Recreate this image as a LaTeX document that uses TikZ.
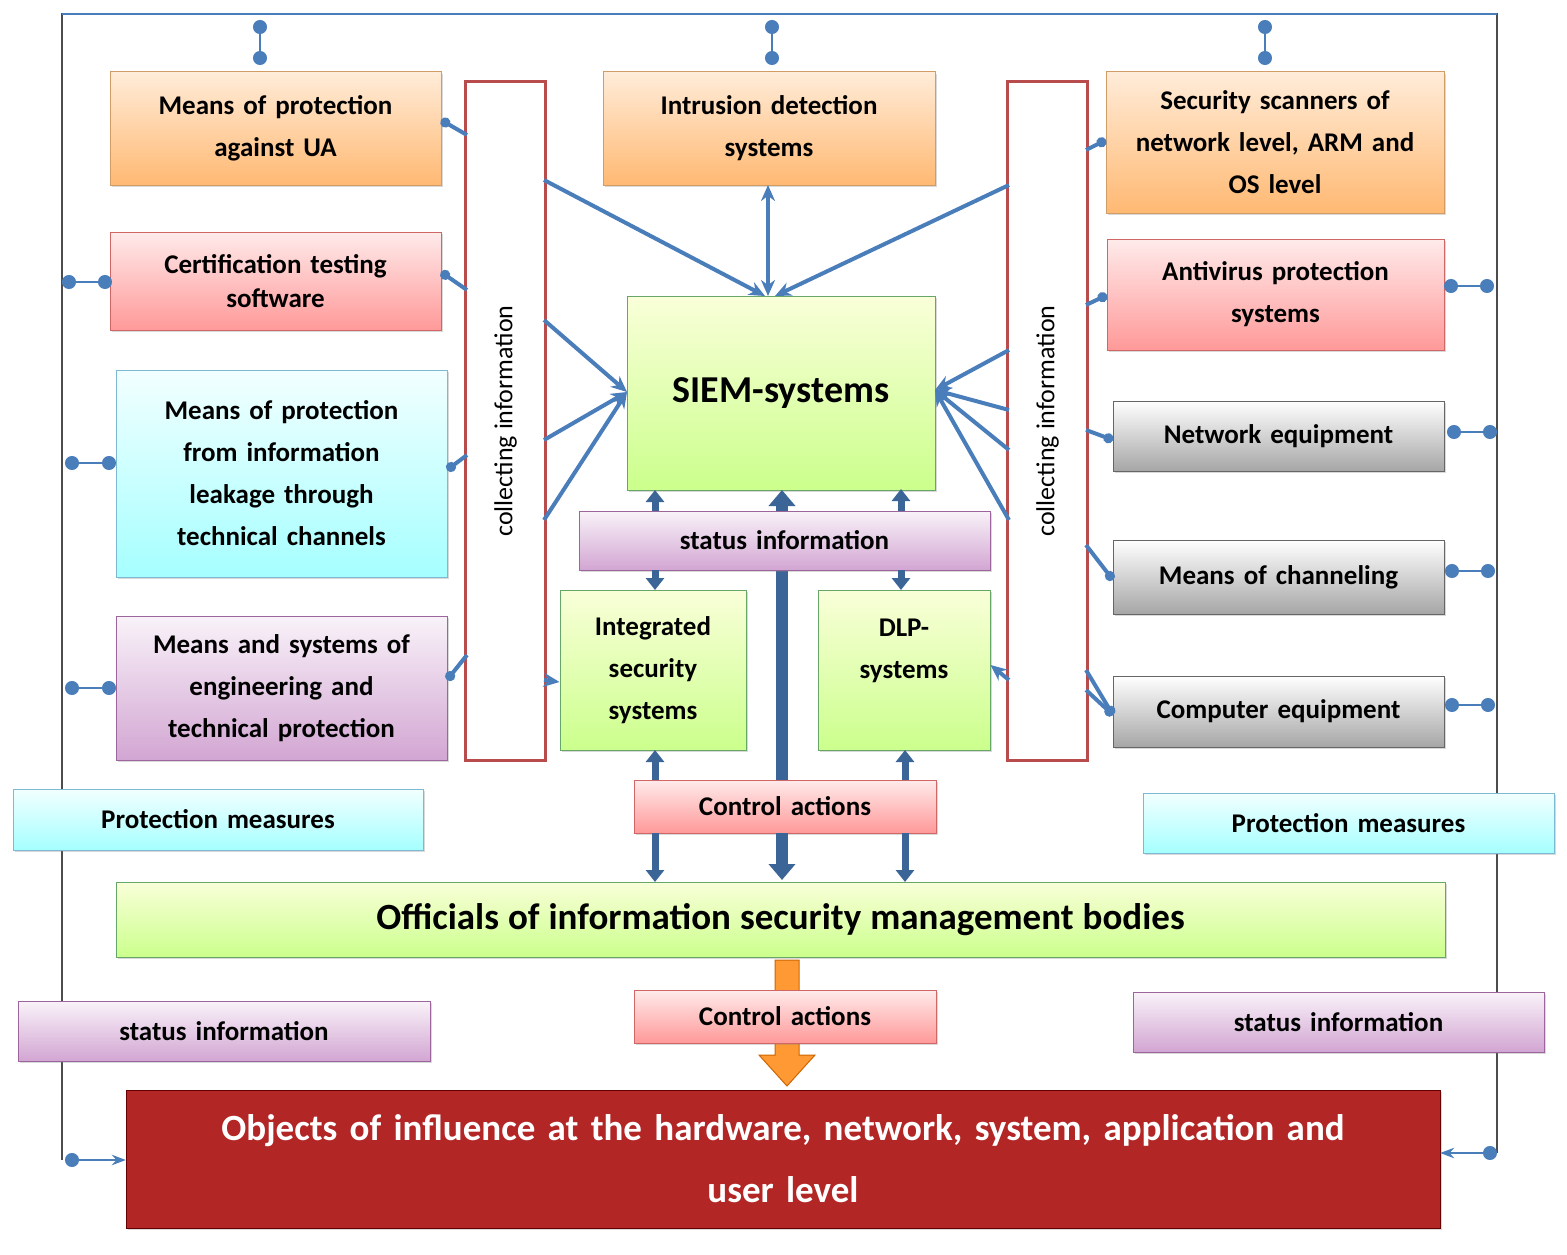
\documentclass[tikz,border=0pt]{standalone}
\usepackage{fontspec}
\setmainfont{Carlito}
\usetikzlibrary{arrows.meta,shadows}
\definecolor{lnc}{HTML}{4A7EBB}
\tikzset{
 bx/.style={draw=#1!70!black!60, line width=1pt, drop shadow={opacity=0.3,shadow xshift=2pt,shadow yshift=-2pt}, align=center, font=\fontsize{27}{42}\selectfont\bfseries, inner sep=1pt},
 orange/.style={bx=orange, top color=orange!15, bottom color=orange!55},
 pink/.style={bx=red, top color=red!8, bottom color=red!40},
 cyan/.style={bx=cyan, top color=cyan!5, bottom color=cyan!35},
 purp/.style={bx=violet, top color=violet!5, bottom color=violet!35},
 gray/.style={bx=black, top color=white, bottom color=black!35},
 green/.style={bx=green!60!black, top color=green!15!yellow!15, bottom color=green!45!yellow!45},
 coll/.style={draw=red!60!black!70, line width=3pt, fill=white},
 ln/.style={draw=lnc, line width=4pt},
 dot/.style={ln, line width=2.5pt, {Circle[length=14pt]}-{Circle[length=14pt]}},
 dotL/.style={ln, -{Circle[length=10pt]}},
 arr/.style={ln, -{Stealth[length=16pt,width=14pt]}},
 darr/.style={ln, {Stealth[length=16pt,width=14pt]}-{Stealth[length=16pt,width=14pt]}},
 thick2/.style={draw=lnc!80!black, line width=7pt},
}
\newcommand\B[7]{\pgfmathsetmacro\bW{#5-#3}\pgfmathsetmacro\bH{#6-#4}%
 \node[#1, minimum width=\bW pt, minimum height=\bH pt, text width=\bW pt-4pt] (#2) at ({(#3+#5)/2},{(#4+#6)/2}) {#7};}
\begin{document}
\begin{tikzpicture}[x=1pt,y=-1pt]
\useasboundingbox (0,0) rectangle (1567,1255);
% frame
\draw[draw=black!70, line width=1.2pt] (62,1160) -- (62,14) -- (1497,14) -- (1497,1153);
\draw[draw=lnc,line width=2pt] (62,14) -- (1497,14);
% boxes
\B{orange}{ua}{110}{72}{441}{185}{Means of protection\\against UA}
\B{orange}{ids}{603}{72}{935}{185}{Intrusion detection\\systems}
\B{orange}{scan}{1106}{72}{1444}{213}{Security scanners of\\network level, ARM and\\OS level}
\B{pink}{cert}{110}{232}{441}{330}{Certification testing\\[-8pt]software}
\B{pink}{av}{1107}{239}{1444}{350}{Antivirus protection\\systems}
\B{cyan}{leak}{116}{370}{447}{577}{Means of protection\\from information\\leakage through\\technical channels}
\B{gray}{net}{1113}{401}{1444}{471}{Network equipment}
\B{gray}{chan}{1113}{540}{1444}{614}{Means of channeling}
\B{gray}{comp}{1113}{676}{1444}{747}{Computer equipment}
\B{purp}{eng}{116}{616}{447}{760}{Means and systems of\\engineering and\\technical protection}
\B{coll}{cl}{467}{82}{544}{760}{}
\B{coll}{cr}{1009}{82}{1086}{760}{}
\node[rotate=90,font=\fontsize{26}{28}\selectfont] at (cl) {collecting information};
\node[rotate=90,font=\fontsize{26}{28}\selectfont] at (cr) {collecting information};
\B{green}{siem}{627}{296}{935}{490}{\fontsize{38}{44}\selectfont SIEM-systems}
\B{green}{integ}{560}{590}{746}{750}{Integrated\\security\\systems}
\B{green}{dlp}{818}{590}{990}{750}{DLP-\\systems\\ \mbox{}}
\B{pink}{ca1}{634}{780}{936}{833}{Control actions}
\B{cyan}{pml}{13}{789}{423}{850}{Protection measures}
\B{cyan}{pmr}{1143}{793}{1554}{853}{Protection measures}
\B{green}{off}{116}{882}{1445}{957}{\fontsize{37}{44}\selectfont Officials of information security management bodies}
\B{purp}{sil}{18}{1001}{430}{1061}{status information}
\B{purp}{sir}{1133}{992}{1544}{1052}{status information}
% thick arrows
\draw[draw=lnc!80!black,line width=12pt,-{Triangle[length=16pt,width=26pt]}] (782,780) -- (782,490);
\draw[draw=lnc!80!black,line width=12pt,{Triangle[length=16pt,width=26pt]}-] (782,880) -- (782,833);
\B{purp}{si}{579}{511}{990}{570}{status information}
\draw[thick2,{Triangle[length=12pt,width=18pt]}-] (655,490) -- (655,511);
\draw[thick2,{Triangle[length=12pt,width=18pt]}-] (655,590) -- (655,570);
\draw[thick2,{Triangle[length=12pt,width=18pt]}-] (901,489) -- (901,511);
\draw[thick2,{Triangle[length=12pt,width=18pt]}-] (901,590) -- (901,570);
\draw[thick2,-{Triangle[length=12pt,width=18pt]}] (655,780) -- (655,750);
\draw[thick2,{Triangle[length=12pt,width=18pt]}-] (655,882) -- (655,833);
\draw[thick2,-{Triangle[length=12pt,width=18pt]}] (905,780) -- (905,750);
\draw[thick2,{Triangle[length=12pt,width=18pt]}-] (905,882) -- (905,833);
% orange arrow
\draw[draw=orange!80!black, fill=orange!80, line width=1pt] (775,960) -- (799,960) -- (799,1055) -- (815,1055) -- (787,1086) -- (759,1055) -- (775,1055) -- cycle;
\B{pink}{ca2}{634}{990}{936}{1043}{Control actions}
\node[draw=red!40!black, fill=red!65!black!85, minimum width=1314pt, minimum height=138pt, text width=1300pt, align=center, text=white, font=\fontsize{37}{62}\selectfont\bfseries, drop shadow={opacity=0.3}] (obj) at (783,1159) {Objects of influence at the hardware, network, system, application and\\user level};
% top dots
\foreach \x in {260,772,1265} \draw[dot] (\x,20) -- (\x,65);
% side dots
\draw[dot] (62,282) -- (112,282);
\draw[dot] (65,463) -- (116,463);
\draw[dot] (65,688) -- (116,688);
\draw[dot] (1444,286) -- (1494,286);
\draw[dot] (1447,432) -- (1497,432);
\draw[dot] (1445,571) -- (1495,571);
\draw[dot] (1445,705) -- (1495,705);
\draw[ln,line width=2pt,{Circle[length=14pt]}-{Stealth[length=14pt]}] (65,1160) -- (obj.west |- 0,1160);
\draw[ln,line width=2pt,{Circle[length=14pt]}-{Stealth[length=14pt]}] (1497,1153) -- (obj.east |- 0,1153);
% stubs left
\draw[dotL] (467,135) -- (441,120);
\draw[dotL] (467,290) -- (441,272);
\draw[dotL] (467,455) -- (447,470);
\draw[dotL] (467,655) -- (447,680);
% stubs right
\draw[dotL] (1086,150) -- (1106,140);
\draw[dotL] (1086,305) -- (1107,295);
\draw[dotL] (1086,430) -- (1113,440);
\draw[dotL] (1086,545) -- (1113,580);
\draw[dotL] (1086,670) -- (1113,715);
\draw[dotL] (1086,690) -- (1113,715);
% arrows into SIEM
\draw[arr] (544,180) -- (765,296);
\draw[arr] (1009,185) -- (775,296);
\draw[darr] (768,185) -- (768,296);
\draw[arr] (544,320) -- (627,392);
\draw[arr] (544,440) -- (627,392);
\draw[arr] (544,520) -- (627,392);
\foreach \y in {350,410,450,520} \draw[arr] (1009,\y) -- (935,390);
\draw[arr] (544,680) -- (integ.west |- 0,682);
\draw[arr] (1009,680) -- (dlp.east |- 0,665);
\end{tikzpicture}
\end{document}
